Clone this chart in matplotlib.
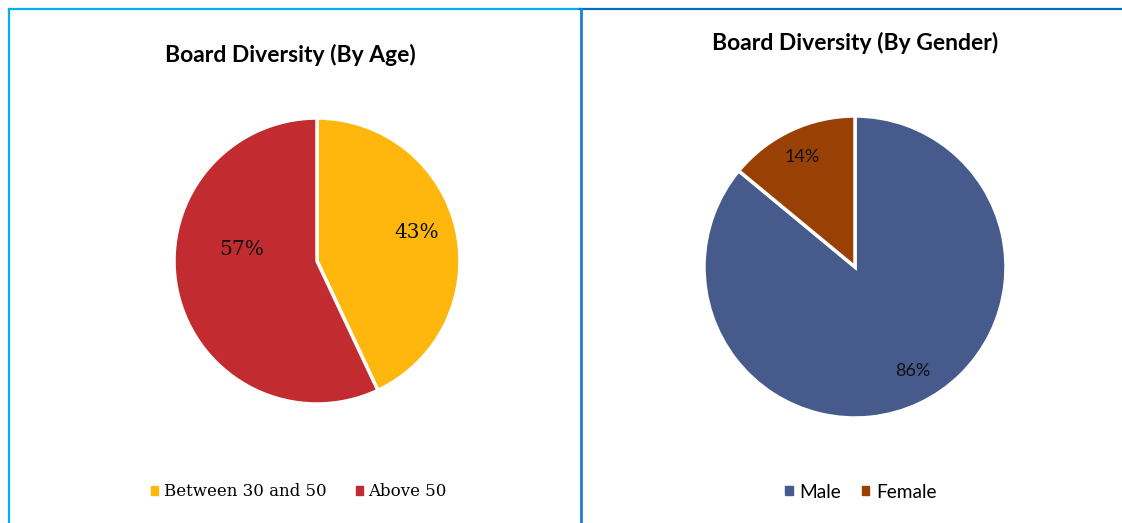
import matplotlib
matplotlib.use("Agg")
import matplotlib.pyplot as plt
from matplotlib.patches import Patch
from matplotlib.lines import Line2D

# Data
age_labels = ["Between 30 and 50", "Above 50"]
age_values = [43, 57]
age_colors = ["#FFB70D", "#C22B2F"]

gender_labels = ["Male", "Female"]
gender_values = [86, 14]
gender_colors = ["#475A8C", "#994005"]

W, H = 1122, 523
fig = plt.figure(figsize=(W / 100, H / 100), dpi=100)

def px_axes(cx, cy, r):
    return fig.add_axes([(cx - r) / W, (H - cy - r) / H, 2 * r / W, 2 * r / H])

serif = ["DejaVu Serif"]
sans = ["Lato", "DejaVu Sans"]

# Panel frames
fig.add_artist(Line2D([8.5 / W, 580 / W], [1 - 8.5 / H, 1 - 8.5 / H], color="#00B0F0", lw=1.6))
fig.add_artist(Line2D([8.5 / W, 8.5 / W], [0, 1 - 8.5 / H], color="#00B0F0", lw=1.6))
fig.add_artist(Line2D([580 / W, 1.0], [1 - 8.5 / H, 1 - 8.5 / H], color="#0070C0", lw=1.6))
fig.add_artist(Line2D([580.5 / W, 580.5 / W], [0, 1 - 8.5 / H], color="#1F7FD3", lw=2.0))

# Age pie
ax1 = px_axes(317, 261, 143)
w1, _ = ax1.pie(age_values, colors=age_colors, startangle=90, counterclock=False,
                wedgeprops=dict(edgecolor="white", linewidth=2.5))
ax1.set_xlim(-1, 1); ax1.set_ylim(-1, 1); ax1.set_aspect("equal"); ax1.axis("off")
age_label_pos = [(0.70, 0.20), (-0.53, 0.08)]
for v, (x, y) in zip(age_values, age_label_pos):
    ax1.text(x, y, f"{v}%", ha="center", va="center", fontsize=14.5, family=serif, color="#111111")

fig.text(290 / W, 1 - 55 / H, "Board Diversity (By Age)", ha="center", va="center",
         fontsize=16.5, fontweight="bold", family=sans)
fig.legend(handles=[Patch(color=c, label=l) for c, l in zip(age_colors, age_labels)],
           loc="center", bbox_to_anchor=(299 / W, 1 - 492 / H), ncol=2, frameon=False,
           prop=dict(family=serif, size=12), handlelength=0.42, handleheight=0.42,
           handletextpad=0.35, columnspacing=1.75)

# Gender pie
ax2 = px_axes(855, 267, 151)
w2, _ = ax2.pie(gender_values, colors=gender_colors, startangle=90, counterclock=False,
                wedgeprops=dict(edgecolor="white", linewidth=2.5))
ax2.set_xlim(-1, 1); ax2.set_ylim(-1, 1); ax2.set_aspect("equal"); ax2.axis("off")
gender_label_pos = [(0.38, -0.69), (-0.35, 0.73)]
for v, (x, y) in zip(gender_values, gender_label_pos):
    ax2.text(x, y, f"{v}%", ha="center", va="center", fontsize=13, family=sans, color="#111111")

fig.text(855 / W, 1 - 43 / H, "Board Diversity (By Gender)", ha="center", va="center",
         fontsize=16.5, fontweight="bold", family=sans)
fig.legend(handles=[Patch(color=c, label=l) for c, l in zip(gender_colors, gender_labels)],
           loc="center", bbox_to_anchor=(861 / W, 1 - 492 / H), ncol=2, frameon=False,
           prop=dict(family=sans, size=13.8), handlelength=0.38, handleheight=0.38,
           handletextpad=0.35, columnspacing=1.1)

fig.savefig("out.png", dpi=100)
